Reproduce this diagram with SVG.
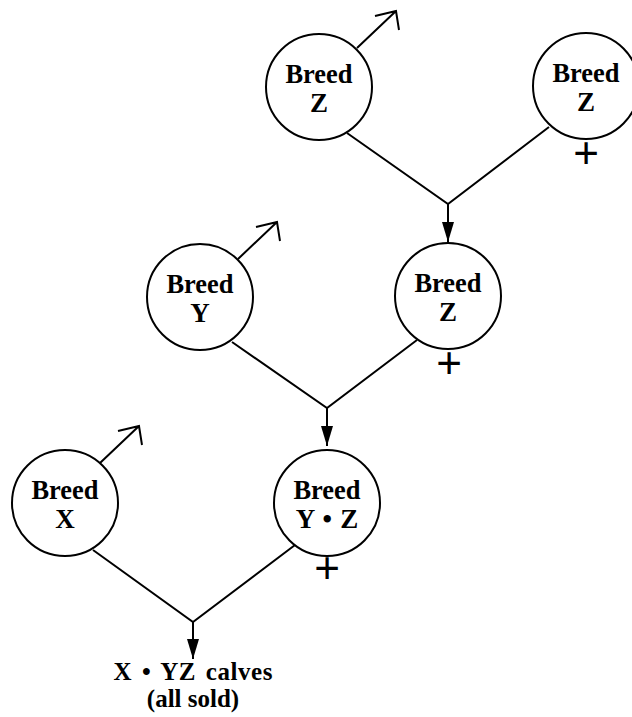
<svg xmlns="http://www.w3.org/2000/svg" width="632" height="717" viewBox="0 0 632 717">
<style>
.c{fill:#fff;stroke:#000;stroke-width:2}
.l{fill:none;stroke:#000;stroke-width:2}
.t{font-family:"Liberation Serif","Times New Roman",serif;font-weight:bold;font-size:27px;text-anchor:middle;fill:#000}
.r{font-family:"Liberation Serif","Times New Roman",serif;font-weight:bold;font-size:25px;text-anchor:middle;fill:#000}
.p{font-family:"Liberation Sans",Arial,sans-serif;font-size:44px;text-anchor:middle;fill:#000}
</style>
<defs>
<marker id="ah" markerWidth="20" markerHeight="12" refX="20" refY="6" orient="auto" markerUnits="userSpaceOnUse">
<path d="M0,0 L20,6 L0,12 Z" fill="#000"/>
</marker>
<g id="male">
<path d="M0,0 L39,-37 M18,-32 L39,-37 L42,-18" fill="none" stroke="#000" stroke-width="2"/>
</g>
</defs>
<rect width="632" height="717" fill="#fff"/>
<g id="connectors">
<path class="l" d="M347,133 L448,204 L549,127"/>
<path class="l" d="M448,204 L448,242" marker-end="url(#ah)"/>
<path class="l" d="M232,342 L327,408 L417,340"/>
<path class="l" d="M327,408 L327,446" marker-end="url(#ah)"/>
<path class="l" d="M93,550 L193,622 L295,545"/>
<path class="l" d="M193,622 L193,659" marker-end="url(#ah)"/>
</g>
<g id="breedZ1">
<circle class="c" cx="319" cy="87" r="53"/>
<use href="#male" x="357" y="48"/>
<text class="t" x="319" y="83" textLength="67" lengthAdjust="spacingAndGlyphs">Breed</text>
<text class="t" x="319" y="112">Z</text>
</g>
<g id="breedZ2">
<circle class="c" cx="586" cy="86" r="53"/>
<text class="t" x="586" y="82" textLength="67" lengthAdjust="spacingAndGlyphs">Breed</text>
<text class="t" x="586" y="111">Z</text>
<text class="p" x="586" y="168">+</text>
</g>
<g id="breedZ3">
<circle class="c" cx="448" cy="296" r="53"/>
<text class="t" x="448" y="292" textLength="67" lengthAdjust="spacingAndGlyphs">Breed</text>
<text class="t" x="448" y="321">Z</text>
<text class="p" x="449" y="378">+</text>
</g>
<g id="breedY">
<circle class="c" cx="200" cy="297" r="53"/>
<use href="#male" x="238" y="259"/>
<text class="t" x="200" y="293" textLength="67" lengthAdjust="spacingAndGlyphs">Breed</text>
<text class="t" x="200" y="322">Y</text>
</g>
<g id="breedYZ">
<circle class="c" cx="327" cy="503" r="53"/>
<text class="t" x="327" y="499" textLength="67" lengthAdjust="spacingAndGlyphs">Breed</text>
<text class="t" x="327" y="528" word-spacing="1.5">Y • Z</text>
<text class="p" x="327" y="583">+</text>
</g>
<g id="breedX">
<circle class="c" cx="65" cy="503" r="53"/>
<use href="#male" x="100" y="463"/>
<text class="t" x="65" y="499" textLength="67" lengthAdjust="spacingAndGlyphs">Breed</text>
<text class="t" x="65" y="528">X</text>
</g>
<g id="result">
<text class="r" x="193" y="680" word-spacing="3" textLength="159">X • YZ calves</text>
<text class="r" x="193" y="707">(all sold)</text>
</g>
</svg>
